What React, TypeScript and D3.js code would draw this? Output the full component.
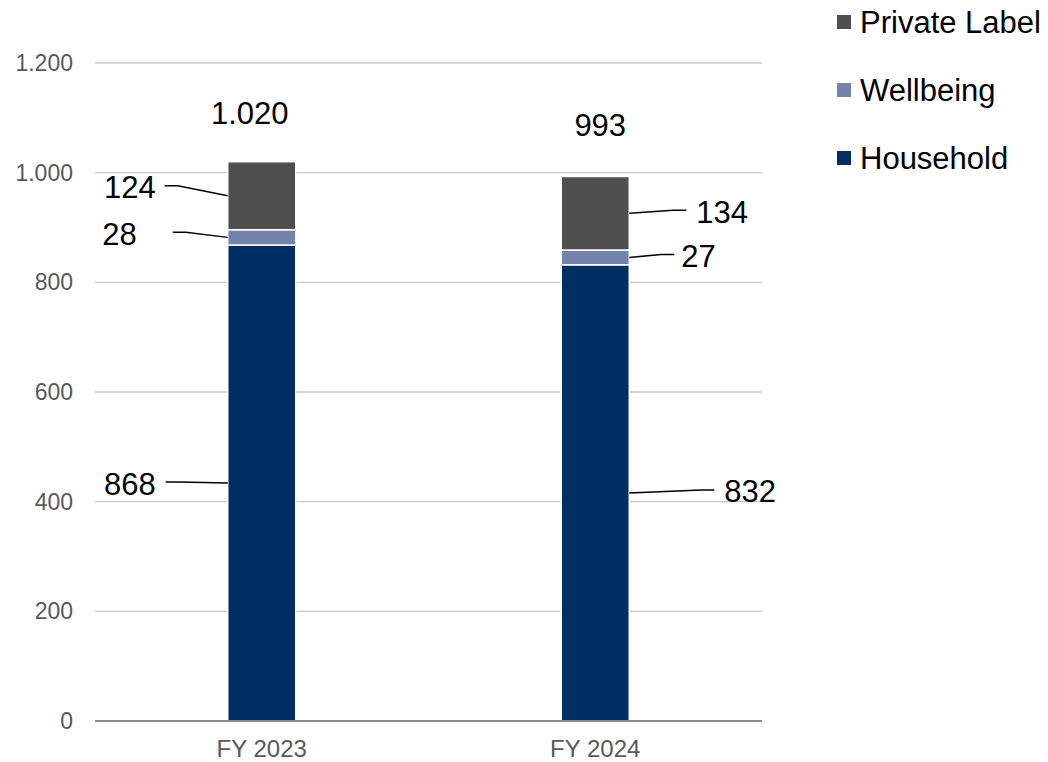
import React from "react";
import * as d3 from "d3";

const categories = ["FY 2023", "FY 2024"];
const seriesNames = ["Household", "Wellbeing", "Private Label"];
const household = [868, 832];
const wellbeing = [28, 27];
const privateLabel = [124, 134];
const totals = [1020, 993];
const totalLabels = ["1.020", "993"];
const yTicks = [0, 200, 400, 600, 800, 1000, 1200];
const colors = ["#002D62", "#7383AD", "#4F4F4F"];

// label placement (pixel offsets from the bar edge / segment middle)
const labelSide = [-1, 1];
const labelDx = [
  [72, 91, 72],
  [95, 52, 67],
];
const labelDy = [
  [1, -3, -8],
  [-1, -1, -1],
];
const leaderGap = [
  [10, 36, 9],
  [10, 7, 10],
];
const totalDx = [-12, 5];

const W = 1048;
const H = 762;
const FONT = "'Liberation Sans', Arial, sans-serif";

const fmt = (v: number) => {
  const s = String(v);
  return s.length > 3 ? s.slice(0, s.length - 3) + "." + s.slice(-3) : s;
};

export default function App() {
  const x = d3
    .scaleBand<string>()
    .domain(categories)
    .range([95, 762])
    .paddingInner(0.796)
    .paddingOuter(0.398);
  const y = d3.scaleLinear().domain([0, 1200]).range([721, 63]);

  const table = categories.map((c, i) => ({
    cat: c,
    Household: household[i],
    Wellbeing: wellbeing[i],
    "Private Label": privateLabel[i],
  }));
  const stack = d3.stack<any>().keys(seriesNames)(table);

  const legendOrder = [2, 1, 0];

  return (
    <svg
      width={W}
      height={H}
      style={{ position: "absolute", left: 0, top: 0, background: "#fff" }}
      fontFamily={FONT}
    >
      {yTicks.map((t) =>
        t === 0 ? null : (
          <line key={"g" + t} x1={95} x2={762} y1={y(t)} y2={y(t)} stroke="#c8c8c8" strokeWidth={1.3} />
        )
      )}
      {yTicks.map((t) => (
        <text
          key={"t" + t}
          x={73}
          y={y(t)}
          textAnchor="end"
          dominantBaseline="central"
          fontSize={23}
          fill="#595959"
        >
          {fmt(t)}
        </text>
      ))}
      {stack.map((s, si) =>
        s.map((d, ci) => (
          <rect
            key={si + "-" + ci}
            x={x(categories[ci])!}
            width={x.bandwidth()}
            y={y(d[1])}
            height={y(d[0]) - y(d[1])}
            fill={colors[si]}
            stroke="#fff"
            strokeWidth={1.5}
          />
        ))
      )}
      <line x1={95} x2={762} y1={y(0)} y2={y(0)} stroke="#8c8c8c" strokeWidth={2} />
      {categories.map((c) => (
        <text
          key={"x" + c}
          x={x(c)! + x.bandwidth() / 2}
          y={748}
          textAnchor="middle"
          dominantBaseline="central"
          fontSize={24}
          fill="#595959"
        >
          {c}
        </text>
      ))}
      {stack.map((s, si) =>
        s.map((d, ci) => {
          const side = labelSide[ci];
          const edge = side < 0 ? x(categories[ci])! : x(categories[ci])! + x.bandwidth();
          const my = y((d[0] + d[1]) / 2);
          const tx = edge + side * labelDx[ci][si];
          const ty = my + labelDy[ci][si];
          const lx = tx - side * leaderGap[ci][si];
          const ly = ty - 2;
          const kx = lx - side * 13;
          return (
            <g key={"l" + si + ci}>
              <polyline
                points={`${edge},${my} ${kx},${ly} ${lx},${ly}`}
                fill="none"
                stroke="#000"
                strokeWidth={1.5}
              />
              <text
                x={tx}
                y={ty}
                textAnchor={side < 0 ? "end" : "start"}
                dominantBaseline="central"
                fontSize={31}
                fill="#000"
              >
                {d.data[seriesNames[si]]}
              </text>
            </g>
          );
        })
      )}
      {categories.map((c, i) => (
        <text
          key={"tot" + c}
          x={x(c)! + x.bandwidth() / 2 + totalDx[i]}
          y={y(totals[i]) - (i === 0 ? 48 : 51)}
          textAnchor="middle"
          dominantBaseline="central"
          fontSize={31}
          fill="#000"
        >
          {totalLabels[i]}
        </text>
      ))}
      {legendOrder.map((si, k) => (
        <g key={"lg" + si} transform={`translate(837, ${22 + k * 68})`}>
          <rect x={0} y={-7} width={14} height={14} fill={colors[si]} />
          <text x={23} y={0} dominantBaseline="central" fontSize={31} fill="#000">
            {seriesNames[si]}
          </text>
        </g>
      ))}
    </svg>
  );
}
